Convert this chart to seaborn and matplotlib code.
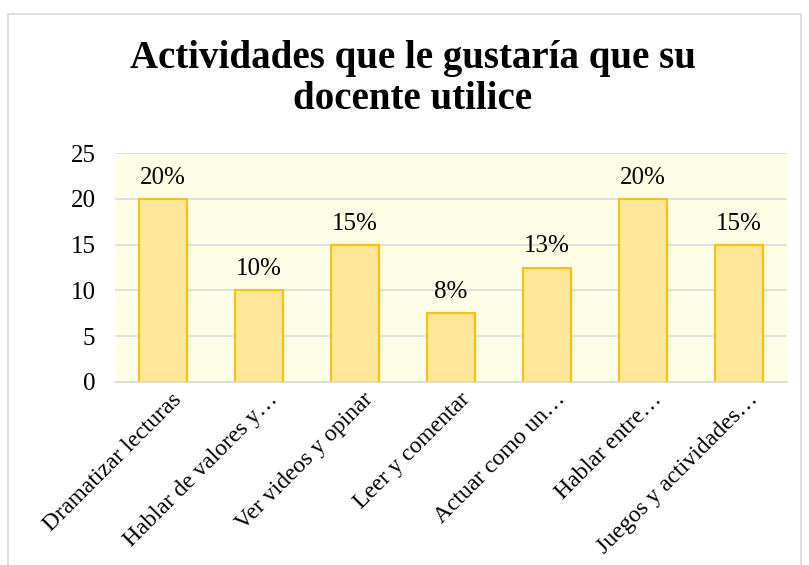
import matplotlib.pyplot as plt
import seaborn as sns
import pandas as pd
from matplotlib.patches import Rectangle
from matplotlib.transforms import ScaledTranslation

actividades = [
    "Dramatizar lecturas",
    "Hablar de valores y…",
    "Ver videos y opinar",
    "Leer y comentar",
    "Actuar como un…",
    "Hablar entre…",
    "Juegos y actividades…",
]
valores = [20, 10, 15, 7.5, 12.5, 20, 15]
etiquetas = ["20%", "10%", "15%", "8%", "13%", "20%", "15%"]

df = pd.DataFrame({"actividad": actividades, "valor": valores})

sns.set_style("white")
plt.rcParams["font.family"] = ["Liberation Serif", "DejaVu Serif"]
plt.rcParams["text.color"] = "black"
plt.rcParams["xtick.color"] = "black"
plt.rcParams["ytick.color"] = "black"

fig = plt.figure(figsize=(8.09, 5.65), dpi=100)
ax = fig.add_axes([0.142, 0.324, 0.831, 0.405])

sns.barplot(data=df, x="actividad", y="valor", color="#FFE699",
            edgecolor="#FFC000", linewidth=1.5, width=0.5, saturation=1, ax=ax)

ax.set_facecolor("#FEFDE6")
ax.set_ylim(0, 25)
ax.set_yticks(range(0, 26, 5))
ax.yaxis.grid(True, color="#D9D9D9", linewidth=1.2)
ax.set_axisbelow(True)
for s in ["top", "right", "left"]:
    ax.spines[s].set_visible(False)
ax.spines["bottom"].set_color("#D9D9D9")
ax.spines["bottom"].set_linewidth(1.2)
ax.tick_params(axis="y", length=0, labelsize=18, pad=14)
ax.tick_params(axis="x", length=0, labelsize=17, pad=5)
ax.set_xlabel("")
ax.set_ylabel("")
offset = ScaledTranslation(0.08, 0, fig.dpi_scale_trans)
for lbl in ax.get_xticklabels():
    lbl.set_rotation(45)
    lbl.set_ha("right")
    lbl.set_rotation_mode("anchor")
    lbl.set_transform(lbl.get_transform() + offset)

for i, (v, t) in enumerate(zip(valores, etiquetas)):
    ax.text(i, v + 1.1, t, ha="center", va="bottom", fontsize=18)

fig.text(0.51, 0.86, "Actividades que le gustaría que su\ndocente utilice",
         ha="center", va="center", fontsize=28, fontweight="bold",
         linespacing=1.15)

fig.patches.append(Rectangle((0.01, -0.01), 0.98, 0.985, transform=fig.transFigure,
                             fill=False, edgecolor="#D9D9D9", linewidth=1.2))

plt.savefig("out.png", dpi=100)
